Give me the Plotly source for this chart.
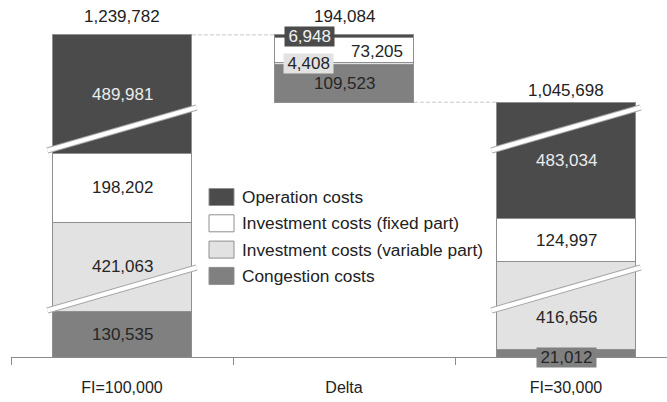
import plotly.graph_objects as go

# ---------------- data ----------------
categories = ["FI=100,000", "Delta", "FI=30,000"]
series_names = ["Operation costs", "Investment costs (fixed part)",
                "Investment costs (variable part)", "Congestion costs"]
operation = [489981, 6948, 483034]
fixed_inv = [198202, 73205, 124997]
variable_inv = [421063, 4408, 416656]
congestion = [130535, 109523, 21012]
total_labels = [1239782, 194084, 1045698]

# ---------------- style ----------------
colors = {"Operation costs": "#4b4b4b",
          "Investment costs (fixed part)": "#ffffff",
          "Investment costs (variable part)": "#e2e2e2",
          "Congestion costs": "#808080"}
text_colors = {"Operation costs": "#ececec",
               "Investment costs (fixed part)": "#262626",
               "Investment costs (variable part)": "#262626",
               "Congestion costs": "#262626"}
OUTLINE = "#8f8f8f"
FONT = "Liberation Sans, Arial, sans-serif"
FS = 17

values = {"Operation costs": operation,
          "Investment costs (fixed part)": fixed_inv,
          "Investment costs (variable part)": variable_inv,
          "Congestion costs": congestion}
stack_order = ["Congestion costs", "Investment costs (variable part)",
               "Investment costs (fixed part)", "Operation costs"]

# waterfall: delta floats on top of the FI=30,000 total
base_vals = [0, total_labels[2], 0]

# ---------------- broken value axis (three stacked panels) ----------------
M_L, M_R, M_T, M_B = 11, 0, 10, 45
W, H = 667, 402
PLOT_H = H - M_T - M_B
PX_PER_UNIT = 0.347 / 1000.0
panel_px = [68, 160, 119]
panel_lo = [0, 359000, 968500]
panel_span = [p / PX_PER_UNIT for p in panel_px]
panel_rng = [[lo, lo + sp] for lo, sp in zip(panel_lo, panel_span)]
dom = []
acc = 0
for p in panel_px:
    dom.append([acc / PLOT_H, (acc + p) / PLOT_H])
    acc += p
dom[-1][1] = 1.0
yrefs = ["y", "y2", "y3"]


def to_disp(v):
    off = 0.0
    for (lo, hi) in panel_rng:
        if v <= hi:
            return off + max(v - lo, 0.0)
        off += hi - lo
    return off


def from_disp(d):
    off = 0.0
    for i, (lo, hi) in enumerate(panel_rng):
        if d <= off + (hi - lo) or i == len(panel_rng) - 1:
            return lo + (d - off), yrefs[i]
        off += hi - lo


fig = go.Figure()
for p, ya in enumerate(yrefs):
    fig.add_trace(go.Bar(x=categories, y=base_vals, xaxis="x", yaxis=ya,
                         marker=dict(color="rgba(0,0,0,0)", line=dict(width=0)),
                         showlegend=False, hoverinfo="skip"))
    for name in stack_order:
        fig.add_trace(go.Bar(x=categories, y=values[name], name=name,
                             xaxis="x", yaxis=ya,
                             marker=dict(color=colors[name],
                                         line=dict(color=OUTLINE, width=1)),
                             showlegend=False, hoverinfo="skip"))

annotations = []
shapes = []

# segment value labels (label nudges in px)
delta_nudge = {"Operation costs": (-35, 0, True),
               "Investment costs (fixed part)": (33, -2, False),
               "Investment costs (variable part)": (-36, 0, True),
               "Congestion costs": (0, 0, False)}
extra_nudge = {("FI=30,000", "Investment costs (variable part)"): -12}
THIN = "\u2009"
for ci, cat in enumerate(categories):
    bottom = base_vals[ci]
    for name in stack_order:
        v = values[name][ci]
        a, b = bottom, bottom + v
        bottom = b
        mid = (to_disp(a) + to_disp(b)) / 2
        yv, yr = from_disp(mid)
        xs, ys, boxed = 0, 0, False
        if cat == "Delta":
            xs, ys, boxed = delta_nudge[name]
        elif v < 40000:
            ys, boxed = -4, True
        ys += extra_nudge.get((cat, name), 0)
        txt = f"{v:,}"
        ann = dict(x=cat, y=yv, xref="x", yref=yr, text=txt,
                   showarrow=False, xshift=xs, yshift=ys,
                   font=dict(family=FONT, size=FS, color=text_colors[name]))
        if boxed:
            ann.update(text=THIN + txt + THIN, bgcolor=colors[name], borderpad=0)
            if name == "Operation costs":
                ann["font"]["color"] = "#f2f2f2"
        annotations.append(ann)

# totals above the bars
tops = [total_labels[0], base_vals[1] + total_labels[1], total_labels[2]]
total_lift = [18, 18, 12]
for ci, cat in enumerate(categories):
    yv, yr = from_disp(to_disp(tops[ci]))
    annotations.append(dict(x=cat, y=yv, xref="x", yref=yr,
                            text=f"{total_labels[ci]:,}", showarrow=False,
                            yanchor="middle", yshift=total_lift[ci],
                            font=dict(family=FONT, size=FS, color="#222222")))

# dashed connectors of the waterfall
BAR_GAP = 0.37
half = (1 - BAR_GAP) / 2
for (i0, i1, v) in [(0, 1, total_labels[0]), (1, 2, total_labels[2])]:
    yv, yr = from_disp(to_disp(v))
    shapes.append(dict(type="line", xref="x", yref=yr, x0=i0 + half, x1=i1 - half,
                       y0=yv, y1=yv,
                       line=dict(color="#c8c8c8", width=1, dash="4px,2px")))

# break marks across the broken bars
seams = [dom[0][1], dom[1][1]]
dy = 21.5 / PLOT_H
for ci in (0, 2):
    for s in seams:
        for col, w in (("#a8a8a8", 6.5), ("#ffffff", 4.4)):
            shapes.append(dict(type="line", xref="x", yref="paper",
                               x0=ci - 0.336, x1=ci + 0.336,
                               y0=s - dy, y1=s + dy, layer="above",
                               line=dict(color=col, width=w)))

# legend (drawn as boxes + text)
leg_x0 = (209 - M_L) / (W - M_L - M_R)
leg_x1 = (234 - M_L) / (W - M_L - M_R)
leg_tx = (240 - M_L) / (W - M_L - M_R)
for i, name in enumerate(series_names):
    yc = (357 - 197 - i * 26.3) / PLOT_H
    hh = 8.5 / PLOT_H
    shapes.append(dict(type="rect", xref="paper", yref="paper",
                       x0=leg_x0, x1=leg_x1, y0=yc - hh, y1=yc + hh,
                       fillcolor=colors[name], line=dict(color=OUTLINE, width=1)))
    annotations.append(dict(x=leg_tx, y=yc, xref="paper", yref="paper",
                            xanchor="left", yanchor="middle", text=name,
                            showarrow=False,
                            font=dict(family=FONT, size=17.3, color="#222222")))

layout = dict(
    width=W, height=H, barmode="stack", bargap=BAR_GAP,
    margin=dict(l=M_L, r=M_R, t=M_T, b=M_B),
    paper_bgcolor="white", plot_bgcolor="white",
    font=dict(family=FONT, size=FS, color="#222222"),
    showlegend=False,
    xaxis=dict(type="category", range=[-0.5, -0.5 + (W - M_L - M_R) / 222.0],
               anchor="y", showline=True, linecolor="#8a8a8a", linewidth=1,
               ticks="outside", tickson="boundaries", ticklen=7,
               tickcolor="#8a8a8a", showgrid=False, zeroline=False,
               ticklabelstandoff=16, automargin=False,
               tickfont=dict(family=FONT, size=16, color="#222222")),
    annotations=annotations, shapes=shapes,
)
for i, ya in enumerate(yrefs):
    key = "yaxis" if i == 0 else f"yaxis{i + 1}"
    layout[key] = dict(domain=dom[i], range=panel_rng[i], anchor="x",
                       visible=False, showgrid=False, zeroline=False)
fig.update_layout(**layout)

fig.write_html("out.html", config={"displayModeBar": False},
               post_script="document.body.style.margin='0';"
                           "document.body.style.overflow='hidden';")
